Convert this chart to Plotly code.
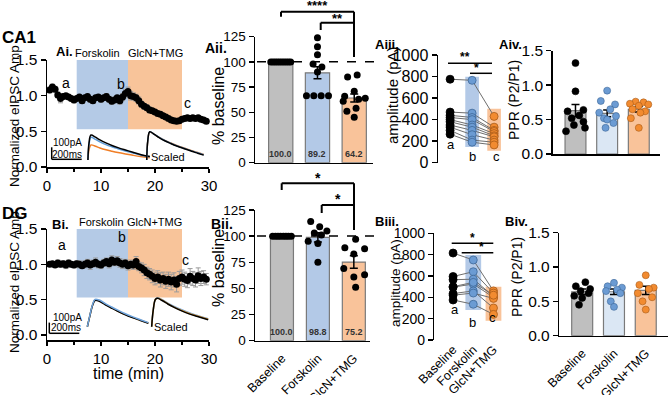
import plotly.graph_objects as go

W, H = 669, 395
FONT = "Liberation Sans, Arial, Helvetica, sans-serif"

# ---------------- data ----------------
time_min = [0.5, 1.0, 1.5, 2.0, 2.5, 3.0, 3.5, 4.0, 4.5, 5.0,
            5.5, 6.0, 6.5, 7.0, 7.5, 8.0, 8.5, 9.0, 9.5, 10.0,
            10.5, 11.0, 11.5, 12.0, 12.5, 13.0, 13.5, 14.0, 14.5, 15.0,
            15.5, 16.0, 16.5, 17.0, 17.5, 18.0, 18.5, 19.0, 19.5, 20.0,
            20.5, 21.0, 21.5, 22.0, 22.5, 23.0, 23.5, 24.0, 24.5, 25.0,
            25.5, 26.0, 26.5, 27.0, 27.5, 28.0, 28.5, 29.0, 29.5]
ca1_norm = [1.08, 1.12, 1.09, 1.01, 0.96, 0.99, 1.00, 0.98, 0.96, 0.94,
            0.96, 0.98, 0.93, 0.97, 0.99, 0.95, 0.93, 0.97, 0.98, 0.95,
            0.97, 0.99, 0.95, 0.92, 0.94, 0.97, 0.93, 0.98, 1.03, 1.06,
            1.00, 0.99, 0.97, 0.93, 0.88, 0.85, 0.83, 0.80, 0.79, 0.77,
            0.75, 0.74, 0.72, 0.70, 0.68, 0.66, 0.65, 0.64, 0.65, 0.67,
            0.68, 0.69, 0.68, 0.69, 0.68, 0.69, 0.67, 0.66, 0.64]
ca1_sem = [0.04, 0.04, 0.04, 0.04, 0.06, 0.04, 0.03, 0.03, 0.03, 0.04,
           0.03, 0.03, 0.04, 0.03, 0.03, 0.04, 0.04, 0.03, 0.03, 0.04,
           0.03, 0.04, 0.04, 0.04, 0.04, 0.03, 0.05, 0.05, 0.06, 0.06,
           0.06, 0.05, 0.05, 0.05, 0.04, 0.04, 0.04, 0.04, 0.03, 0.03,
           0.03, 0.03, 0.03, 0.03, 0.03, 0.03, 0.03, 0.03, 0.03, 0.03,
           0.03, 0.03, 0.03, 0.03, 0.03, 0.03, 0.03, 0.03, 0.03]
dg_norm = [1.00, 1.01, 0.99, 1.02, 1.00, 1.01, 0.99, 1.02, 1.00, 0.99,
           1.01, 1.00, 0.98, 1.00, 1.02, 0.99, 1.01, 1.03, 1.00, 0.99,
           1.02, 1.04, 1.01, 1.06, 1.03, 1.05, 1.02, 1.00, 1.02, 0.98,
           1.00, 0.99, 1.04, 0.97, 0.95, 0.92, 0.88, 0.86, 0.83, 0.80,
           0.82, 0.78, 0.80, 0.76, 0.79, 0.75, 0.78, 0.72, 0.80, 0.82,
           0.79, 0.77, 0.83, 0.80, 0.78, 0.84, 0.80, 0.82, 0.79]
dg_sem = [0.03, 0.03, 0.03, 0.04, 0.04, 0.04, 0.05, 0.04, 0.04, 0.04,
          0.04, 0.05, 0.04, 0.05, 0.05, 0.06, 0.05, 0.06, 0.05, 0.05,
          0.05, 0.05, 0.06, 0.06, 0.05, 0.06, 0.06, 0.06, 0.05, 0.06,
          0.06, 0.06, 0.07, 0.06, 0.07, 0.08, 0.08, 0.08, 0.09, 0.09,
          0.09, 0.10, 0.09, 0.10, 0.10, 0.11, 0.10, 0.11, 0.10, 0.10,
          0.10, 0.10, 0.11, 0.10, 0.10, 0.11, 0.10, 0.09, 0.08]
forskolin_window = [5.5, 15.0]
glcn_window = [15.0, 25.0]
shade_levels = [0.53, 1.5]

# example eIPSC traces (ms, pA above baseline)
ca1_ev_ms = [0, 7, 20, 50, 80, 120, 160, 200, 250, 300, 350, 413]
ca1_ev_base = [0, 140, 208, 190, 167, 142, 121, 103, 83, 64, 46, 28]
ca1_ev_fsk = [0, 125, 188, 172, 151, 128, 110, 94, 75, 58, 42, 26]
ca1_ev_glc = [0, 85, 125, 114, 100, 85, 73, 62, 50, 39, 29, 19]
ca1_sc_ms = [0, 7, 20, 50, 80, 120, 160, 200, 250, 300, 340, 380]
ca1_sc_base = [0, 160, 235, 214, 189, 160, 137, 116, 94, 72, 56, 40]
ca1_sc_fsk = [0, 158, 234, 214, 190, 162, 139, 119, 97, 76, 60, 44]
ca1_sc_glc = [0, 155, 232, 213, 190, 163, 141, 121, 99, 78, 62, 46]

dg_ev_ms = [0, 15, 35, 51, 80, 120, 160, 200, 250, 300, 350, 407]
dg_ev_base = [0, 90, 200, 245, 238, 205, 175, 146, 113, 85, 60, 32]
dg_ev_fsk = [0, 95, 208, 255, 249, 216, 186, 157, 123, 94, 68, 38]
dg_ev_glc = [0, 92, 204, 250, 242, 209, 178, 149, 115, 87, 62, 34]
dg_sc_ms = [0, 10, 25, 40, 70, 110, 150, 200, 250, 300, 377]
dg_sc_base = [0, 150, 255, 265, 245, 210, 180, 148, 120, 98, 65]
dg_sc_fsk = [0, 152, 258, 270, 252, 218, 189, 158, 130, 107, 74]
dg_sc_glc = [0, 151, 256, 267, 248, 213, 183, 152, 124, 102, 69]

groups = ["Baseline", "Forskolin", "GlcN+TMG"]

# % baseline
ca1_pct_mean = [100.0, 89.2, 64.2]
ca1_pct_sem = [0.0, 6.0, 4.0]
ca1_pct_base = [100, 100, 100, 100, 100, 100, 100, 100, 100, 100]
ca1_pct_fsk = [124, 115, 107, 98, 95, 90, 66.5, 66.5, 66.5, 66.5]
ca1_pct_glc = [87, 85, 71, 66, 64, 63, 61, 54, 51, 45]
dg_pct_mean = [100.0, 98.8, 75.2]
dg_pct_sem = [0.0, 4.5, 6.0]
dg_pct_base = [100, 100, 100, 100, 100, 100, 100, 100]
dg_pct_fsk = [114, 109, 105, 103, 101, 95, 93, 75]
dg_pct_glc = [97, 89, 88, 83, 69, 63, 61, 51]

# amplitude (pA), paired per cell
ca1_amp_base = [775, 470, 440, 420, 400, 380, 350, 330, 300, 265]
ca1_amp_fsk = [765, 460, 420, 400, 350, 330, 300, 260, 210, 190]
ca1_amp_glc = [430, 330, 300, 290, 270, 250, 240, 210, 190, 165]
ca1_amp_range_lo = [146, 111]
ca1_amp_range_hi = [798, 500]
dg_amp_base = [815, 595, 565, 495, 435, 420, 375, 500]
dg_amp_fsk = [750, 640, 570, 525, 460, 440, 335, 540]
dg_amp_glc = [460, 440, 410, 400, 300, 390, 240, 420]
dg_amp_range_lo = [281, 181]
dg_amp_range_hi = [797, 500]

# paired-pulse ratio
ca1_ppr_mean = [0.63, 0.59, 0.65]
ca1_ppr_sem = [0.09, 0.05, 0.04]
ca1_ppr_base = [1.32, 0.91, 0.64, 0.62, 0.56, 0.52, 0.47, 0.42, 0.38, 0.33]
ca1_ppr_fsk = [0.92, 0.77, 0.72, 0.65, 0.60, 0.55, 0.52, 0.50, 0.45, 0.38]
ca1_ppr_glc = [0.76, 0.75, 0.73, 0.72, 0.70, 0.65, 0.62, 0.60, 0.52, 0.38]
dg_ppr_mean = [0.64, 0.64, 0.66]
dg_ppr_sem = [0.04, 0.04, 0.06]
dg_ppr_base = [0.78, 0.72, 0.68, 0.65, 0.62, 0.58, 0.55, 0.45]
dg_ppr_fsk = [0.77, 0.72, 0.70, 0.67, 0.65, 0.62, 0.50, 0.42]
dg_ppr_glc = [0.88, 0.74, 0.70, 0.68, 0.62, 0.56, 0.50, 0.38]

# ---------------- style ----------------
GRAY, BLUE, ORANGE = "#bfbfbf", "#b3c9e7", "#f9c39a"
LBLUE = "#dbe7f4"
SHADE_B, SHADE_O = "#b4cae6", "#f8c49a"
DOT_B, DOT_O = "#6b9bd3", "#f28b30"
EDGE = "#7a7a7a"

JIT10 = [-0.27, -0.21, -0.15, -0.09, -0.03, 0.03, 0.09, 0.15, 0.21, 0.27]
JIT8 = [-0.26, -0.18, -0.11, -0.04, 0.04, 0.11, 0.18, 0.26]
JIT_A_FSK = [0.0, 0.0, 0.0, -0.12, 0.12, 0.0, -0.3, -0.1, 0.1, 0.3]
JIT_A_GLC = [0.08, -0.18, 0.0, -0.26, 0.3, 0.12, -0.3, 0.05, -0.2, 0.0]
JIT_B_FSK = [-0.2, 0.05, 0.25, -0.1, 0.1, -0.27, 0.0, 0.0]
JIT_B_GLC = [0.05, -0.25, 0.3, 0.0, -0.28, 0.3, 0.0, 0.05]
JIT_PPR10 = [0.0, 0.0, 0.25, -0.25, 0.12, -0.12, 0.25, -0.05, 0.3, -0.3]
JIT_PPR10b = [0.0, -0.2, 0.25, 0.1, -0.25, 0.28, -0.1, 0.0, 0.2, -0.05]
JIT_PPR10c = [-0.1, 0.15, -0.28, 0.3, 0.0, -0.2, 0.2, 0.05, -0.25, 0.0]
JIT_PPR8 = [0.1, -0.2, 0.25, -0.05, 0.2, -0.25, 0.0, -0.1]
JIT_PPR8b = [0.0, -0.2, 0.25, 0.1, -0.25, 0.2, -0.1, 0.0]
JIT_PPR8c = [0.0, -0.2, 0.25, 0.1, -0.25, 0.2, -0.1, 0.0]


def xdom(a, b):
    return [a / W, b / W]


def ydom(top, bot):
    return [1 - bot / H, 1 - top / H]


def P(x, y):
    return x / W, 1 - y / H


fig = go.Figure()
layout = dict(width=W, height=H, margin=dict(l=0, r=0, t=0, b=0, pad=0, autoexpand=False),
              paper_bgcolor="white", plot_bgcolor="rgba(0,0,0,0)", template="none",
              showlegend=False, font=dict(family=FONT, color="black"))
annotations, shapes = [], []


def add_axes(n, xd, yd, xr, yr, xkw=None, ykw=None):
    base = dict(showgrid=False, zeroline=False, showline=True, linecolor="black",
                linewidth=1.5, ticks="outside", ticklen=5, tickwidth=1.5,
                tickcolor="black", automargin=False)
    xa = dict(base, domain=xd, range=xr, anchor="y%d" % n)
    ya = dict(base, domain=yd, range=yr, anchor="x%d" % n)
    xa.update(xkw or {})
    ya.update(ykw or {})
    layout["xaxis%s" % ("" if n == 1 else n)] = xa
    layout["yaxis%s" % ("" if n == 1 else n)] = ya


def ax(n):
    return ("x" if n == 1 else "x%d" % n), ("y" if n == 1 else "y%d" % n)


def txt(x, y, s, size, angle=0, xanchor="center", color="black", yanchor="middle"):
    px, py = P(x, y)
    annotations.append(dict(x=px, y=py, xref="paper", yref="paper", text=s,
                            showarrow=False, textangle=angle, xanchor=xanchor,
                            yanchor=yanchor,
                            font=dict(size=size, family=FONT, color=color)))


def pline(x0, y0, x1, y1, w=2, dash=None):
    a0, b0 = P(x0, y0)
    a1, b1 = P(x1, y1)
    shapes.append(dict(type="line", xref="paper", yref="paper", x0=a0, y0=b0,
                       x1=a1, y1=b1, line=dict(color="black", width=w, dash=dash)))


# ---------------- axes ----------------
time_x = dict(tickvals=[0, 10, 20, 30], tickfont=dict(size=15), ticklen=4,
              minor=dict(dtick=5, ticks="outside", ticklen=3, tickwidth=1.5, tickcolor="black"))
norm_y = dict(tickvals=[0, 0.5, 1.0, 1.5], tickformat=".1f", tickfont=dict(size=15.5))
add_axes(1, xdom(47, 209), ydom(60, 167), [0, 30], [0, 1.5], time_x, norm_y)
add_axes(6, xdom(47, 209), ydom(229, 340), [0, 30], [-0.07, 1.5], time_x, norm_y)
hide = dict(visible=False)
add_axes(2, xdom(50, 210), ydom(120, 165), [0, 1067], [0, 375], hide, hide)
add_axes(7, xdom(47, 210), ydom(290, 337), [0, 1087], [0, 439], hide, hide)

pct_y = dict(tickvals=[0, 25, 50, 75, 100, 125], tickfont=dict(size=13.5))
cat_plain = dict(ticks="", showticklabels=False)
cat_lab = dict(ticks="", tickvals=[0, 1, 2], ticktext=groups, tickangle=-45,
               tickfont=dict(size=12.5), ticklabelstandoff=4)
add_axes(3, xdom(255, 372.6), ydom(36.7, 162.7), [-0.7, 2.5], [0, 125], cat_plain, pct_y)
add_axes(8, xdom(255, 370), ydom(210, 340.7), [-0.75, 2.45], [0, 125], cat_lab, pct_y)

amp_y = dict(tickvals=[0, 200, 400, 600, 800, 1000])
add_axes(4, xdom(438, 507.3), ydom(55, 162.7), [-0.55, 2.6], [0, 1000],
         dict(visible=False), dict(amp_y, tickfont=dict(size=16)))
add_axes(9, xdom(434.3, 505.6), ydom(233.3, 340), [-0.93, 2.6], [0, 1000],
         dict(cat_lab, showline=False, ticklabelstandoff=-1), dict(amp_y, tickfont=dict(size=14)))

ppr_y = dict(tickvals=[0, 0.5, 1.0, 1.5], tickformat=".1f", tickfont=dict(size=15.5))
add_axes(5, xdom(552.7, 660), ydom(50.7, 154), [-0.72, 2.67], [0, 1.5], cat_plain, ppr_y)
add_axes(10, xdom(559.3, 668), ydom(232.7, 335.7), [-0.72, 2.7], [0, 1.5], cat_lab, ppr_y)

# ---------------- time courses ----------------
for n, ymean, ysem in [(1, ca1_norm, ca1_sem), (6, dg_norm, dg_sem)]:
    xa, ya = ax(n)
    for win, col in [(forskolin_window, SHADE_B), (glcn_window, SHADE_O)]:
        shapes.append(dict(type="rect", xref=xa, yref=ya, x0=win[0], x1=win[1],
                           y0=shade_levels[0], y1=shade_levels[1], fillcolor=col,
                           line=dict(width=0), layer="below"))
    fig.add_trace(go.Scatter(x=time_min, y=ymean, mode="markers", xaxis=xa, yaxis=ya,
                             marker=dict(color="black", size=7),
                             error_y=dict(type="data", array=ysem, color="#9a9a9a",
                                          thickness=1, width=2.5),
                             cliponaxis=False))

# example traces
A_ON1, A_ON2, A_BASE = 253, 645, 42
B_ON1, B_ON2, B_BASE = 269, 698, 96
for n, on1, on2, b0, ev_ms, sc_ms, evs, scs in [
        (2, A_ON1, A_ON2, A_BASE, ca1_ev_ms, ca1_sc_ms,
         [ca1_ev_glc, ca1_ev_fsk, ca1_ev_base], [ca1_sc_glc, ca1_sc_fsk, ca1_sc_base]),
        (7, B_ON1, B_ON2, B_BASE, dg_ev_ms, dg_sc_ms,
         [dg_ev_glc, dg_ev_base, dg_ev_fsk], [dg_sc_fsk, dg_sc_glc, dg_sc_base])]:
    xa, ya = ax(n)
    cols_ev = ["#f07e26", "#5d9ad6", "black"] if n == 2 else ["#f0a030", "black", "#6ea3dc"]
    cols_sc = ["#f07e26", "#5d9ad6", "black"] if n == 2 else ["#6ea3dc", "#f0a030", "black"]
    for tr, c in zip(evs, cols_ev):
        fig.add_trace(go.Scatter(x=[on1 + t for t in ev_ms], y=[b0 + v for v in tr],
                                 mode="lines", line=dict(color=c, width=1.5, shape="spline"),
                                 xaxis=xa, yaxis=ya))
    for tr, c in zip(scs, cols_sc):
        fig.add_trace(go.Scatter(x=[on2 + t for t in sc_ms], y=[b0 + v for v in tr],
                                 mode="lines", line=dict(color=c, width=1.5, shape="spline"),
                                 xaxis=xa, yaxis=ya))

# scale bars
pline(51.7, 147.3, 51.7, 159.3, w=1.5)
pline(51.7, 159.3, 81.7, 159.3, w=1.5)
pline(49.3, 322.6, 49.3, 333.3, w=1.5)
pline(49.3, 333.3, 79.3, 333.3, w=1.5)
txt(67, 142.5, "100pA", 10)
txt(67, 154, "200ms", 10)
txt(168, 157, "Scaled", 11)
txt(67.5, 317, "100pA", 10)
txt(66, 327.5, "200ms", 10)
txt(171, 327, "Scaled", 11)

# ---------------- % baseline bars ----------------
for n, means, sems, pts, jits in [
        (3, ca1_pct_mean, ca1_pct_sem, [ca1_pct_base, ca1_pct_fsk, ca1_pct_glc],
         [JIT10, JIT_A_FSK, JIT_A_GLC]),
        (8, dg_pct_mean, dg_pct_sem, [dg_pct_base, dg_pct_fsk, dg_pct_glc],
         [JIT8, JIT_B_FSK, JIT_B_GLC])]:
    xa, ya = ax(n)
    fig.add_trace(go.Bar(x=[0, 1, 2], y=means, width=0.66 if n == 3 else 0.64,
                         marker=dict(color=[GRAY, BLUE, ORANGE], line=dict(color=EDGE, width=1.2)),
                         error_y=dict(type="data", array=sems, color="black", thickness=1.5, width=4),
                         xaxis=xa, yaxis=ya))
    for i, (vals, jit) in enumerate(zip(pts, jits)):
        fig.add_trace(go.Scatter(x=[i + j for j in jit], y=vals, mode="markers",
                                 marker=dict(color="black", size=7), xaxis=xa, yaxis=ya,
                                 cliponaxis=False))
    for i, m in enumerate(means):
        annotations.append(dict(x=i, y=2, xref=xa, yref=ya, text="<b>%.1f</b>" % m,
                                showarrow=False, yanchor="bottom",
                                font=dict(size=9, family=FONT, color="#333")))

# dashed 100% lines
pline(257, 61.7, 377, 61.7, w=1.5, dash="dash")
pline(257, 236, 377, 236, w=1.5, dash="dash")

# significance brackets
pline(281, 11.7, 354, 11.7); pline(281, 11.7, 281, 16.7); pline(354, 11.7, 354, 57)
pline(320.7, 22.7, 354, 22.7); pline(320.7, 22.7, 320.7, 30)
txt(317.5, 6, "<b>****</b>", 13)
txt(337.5, 18, "<b>**</b>", 13)
pline(281.7, 183.3, 354, 183.3); pline(281.7, 183.3, 281.7, 190); pline(354, 183.3, 354, 230)
pline(321.7, 205, 354, 205); pline(321.7, 205, 321.7, 213)
txt(317.7, 178, "<b>*</b>", 14)
txt(337.7, 199, "<b>*</b>", 14)

# ---------------- amplitude ----------------
for n, base, fsk, glc, lo, hi, wd in [
        (4, ca1_amp_base, ca1_amp_fsk, ca1_amp_glc, ca1_amp_range_lo, ca1_amp_range_hi, 0.62),
        (9, dg_amp_base, dg_amp_fsk, dg_amp_glc, dg_amp_range_lo, dg_amp_range_hi, 0.78)]:
    xa, ya = ax(n)
    fig.add_trace(go.Bar(x=[1, 2], base=lo, y=[h - l for h, l in zip(hi, lo)], width=wd,
                         marker=dict(color=[BLUE, ORANGE], line=dict(width=0)),
                         xaxis=xa, yaxis=ya))
    for b, f, g in zip(base, fsk, glc):
        fig.add_trace(go.Scatter(x=[0, 1, 2], y=[b, f, g], mode="lines",
                                 line=dict(color="#6e6e6e", width=1), xaxis=xa, yaxis=ya))
    for i, (vals, c, e) in enumerate([(base, "black", "black"), (fsk, DOT_B, "#3d6797"),
                                      (glc, DOT_O, "#a85a18")]):
        fig.add_trace(go.Scatter(x=[i] * len(vals), y=vals, mode="markers",
                                 marker=dict(color=c, size=8, line=dict(color=e, width=0.8)),
                                 xaxis=xa, yaxis=ya, cliponaxis=False))

pline(448, 63.3, 492, 63.3, w=1.5); pline(470, 73.3, 492, 73.3, w=1.5)
txt(465, 57, "<b>**</b>", 12)
txt(476, 68, "<b>*</b>", 12)
pline(451.7, 243.3, 493.3, 243.3, w=1.5); pline(461.7, 252.7, 493.3, 252.7, w=1.5)
txt(472, 237.5, "<b>*</b>", 12)
txt(481.7, 247, "<b>*</b>", 12)
for (x, y, s) in [(450.7, 145, "a"), (472.3, 156, "b"), (496.7, 156, "c"),
                  (455, 309, "a"), (472, 322, "b"), (492, 317, "c")]:
    txt(x, y, s, 13)

# ---------------- PPR ----------------
for n, means, sems, pts, jits in [
        (5, ca1_ppr_mean, ca1_ppr_sem, [ca1_ppr_base, ca1_ppr_fsk, ca1_ppr_glc],
         [JIT_PPR10, JIT_PPR10b, JIT_PPR10c]),
        (10, dg_ppr_mean, dg_ppr_sem, [dg_ppr_base, dg_ppr_fsk, dg_ppr_glc],
         [JIT_PPR8, JIT_PPR8b, JIT_PPR8c])]:
    xa, ya = ax(n)
    fig.add_trace(go.Bar(x=[0, 1, 2], y=means, width=0.66,
                         marker=dict(color=[GRAY, LBLUE, ORANGE], line=dict(color=EDGE, width=1.2)),
                         error_y=dict(type="data", array=sems, color="black", thickness=1.5, width=4),
                         xaxis=xa, yaxis=ya))
    for i, (vals, jit, c, e) in enumerate(zip(pts, jits, ["black", DOT_B, DOT_O],
                                             ["black", "#3d6797", "#a85a18"])):
        fig.add_trace(go.Scatter(x=[i + j for j in jit], y=vals, mode="markers",
                                 marker=dict(color=c, size=7, line=dict(color=e, width=0.6)),
                                 xaxis=xa, yaxis=ya, cliponaxis=False))

# ---------------- labels ----------------
txt(0, 37, "<b>CA1</b>", 17, xanchor="left")
txt(0, 213, "<b>DG</b>", 17, xanchor="left")
txt(64, 51, "<b>Ai.</b>", 13)
txt(60, 224, "<b>Bi.</b>", 13)
txt(97, 53, "Forskolin", 11)
txt(155, 53, "GlcN+TMG", 11)
txt(101.7, 222, "Forskolin", 11)
txt(154.3, 222, "GlcN+TMG", 11)
txt(216, 48, "<b>Aii.</b>", 14)
txt(222, 224, "<b>Bii.</b>", 14)
txt(387, 45, "<b>Aiii.</b>", 13)
txt(387, 221, "<b>Biii.</b>", 13)
txt(511, 45, "<b>Aiv.</b>", 13)
txt(516, 221, "<b>Biv.</b>", 13)
for (x, y, s) in [(66, 83, "a"), (121, 84, "b"), (187, 103, "c"),
                  (62, 245, "a"), (122, 237, "b"), (185, 260, "c")]:
    txt(x, y, s, 14)

txt(14, 116, "Normalized eIPSC Amp", 13.5, angle=-90)
txt(14, 282, "Normalized eIPSC Amp", 13.5, angle=-90)
txt(218, 106, "% baseline", 16, angle=-90)
txt(218, 268, "% baseline", 16, angle=-90)
txt(393, 95, "amplitude (pA)", 15, angle=-90)
txt(395, 283, "amplitude (pA)", 13.5, angle=-90)
txt(514, 100, "PPR (P2/P1)", 14, angle=-90)
txt(517, 277, "PPR (P2/P1)", 14, angle=-90)
txt(128, 373, "time (min)", 16)

layout["annotations"] = annotations
layout["shapes"] = shapes
fig.update_layout(**layout)
fig.write_html("out.html", config={"displayModeBar": False, "staticPlot": True},
               post_script="document.body.style.margin='0';document.body.style.padding='0';")
